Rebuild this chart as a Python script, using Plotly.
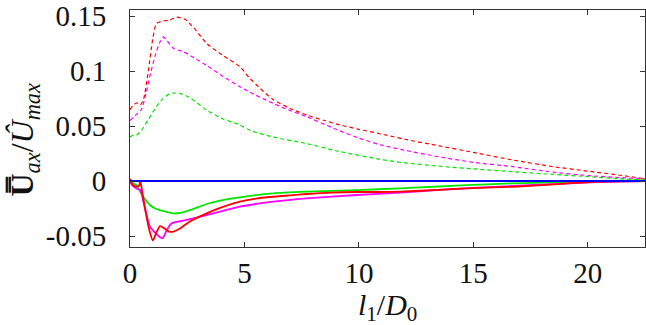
import plotly.graph_objects as go

# ---- data ----
red_dash_x = [0, 0.15, 0.3, 0.45, 0.6, 0.8, 1.0, 1.15, 1.45, 1.7, 2.04, 2.4, 2.8, 3.35, 4.0, 4.8, 5.25, 5.7, 6.26, 7.0, 7.72, 8.5, 9.18, 10.0, 10.93, 12, 13.5, 15, 16.75, 18.5, 20, 21.5, 22.5]
red_dash_y = [0.065, 0.069, 0.071, 0.069, 0.075, 0.10, 0.13, 0.143, 0.1457, 0.146, 0.149, 0.147, 0.139, 0.125, 0.115, 0.104, 0.093, 0.084, 0.074, 0.066, 0.060, 0.055, 0.051, 0.047, 0.043, 0.038, 0.032, 0.026, 0.019, 0.013, 0.009, 0.005, 0.002]

mag_dash_x = [0, 0.15, 0.3, 0.5, 0.7, 0.9, 1.1, 1.3, 1.46, 1.6, 1.9, 2.33, 2.8, 3.35, 4.0, 4.8, 5.5, 6.26, 7.0, 7.72, 8.89, 10.0, 10.93, 12, 13.5, 15, 16.75, 18.5, 20, 21.5, 22.5]
mag_dash_y = [0.055, 0.058, 0.061, 0.065, 0.080, 0.098, 0.114, 0.126, 0.131, 0.128, 0.1206, 0.1176, 0.112, 0.105, 0.096, 0.0857, 0.078, 0.0706, 0.064, 0.0585, 0.048, 0.039, 0.033, 0.028, 0.022, 0.017, 0.013, 0.008, 0.005, 0.003, 0.002]

grn_dash_x = [0, 0.15, 0.3, 0.5, 0.8, 1.1, 1.4, 1.7, 1.9, 2.2, 2.6, 3.35, 4.0, 4.8, 5.25, 6.26, 7.72, 9.0, 10.93, 12, 13.5, 15, 16.75, 18.5, 20, 21.5, 22.5]
grn_dash_y = [0.040, 0.042, 0.042, 0.046, 0.056, 0.066, 0.074, 0.079, 0.080, 0.0795, 0.076, 0.0645, 0.057, 0.051, 0.046, 0.040, 0.034, 0.0275, 0.0197, 0.0165, 0.0135, 0.011, 0.0085, 0.006, 0.004, 0.002, 0.001]

red_x = [0, 0.1, 0.25, 0.4, 0.45, 0.55, 0.7, 0.85, 1.0, 1.15, 1.31, 1.5, 1.7, 1.9, 2.2, 2.6, 3.35, 4.0, 4.8, 5.5, 6.26, 7.0, 7.72, 8.8, 9.9, 10.93, 11.8, 13.5, 15, 16.75, 18.5, 20.4, 22.5]
red_y = [0.002, -0.003, -0.005, -0.004, 0.0, -0.012, -0.030, -0.045, -0.054, -0.047, -0.041, -0.043, -0.046, -0.046, -0.043, -0.037, -0.0294, -0.024, -0.0188, -0.016, -0.0143, -0.013, -0.0118, -0.0105, -0.010, -0.010, -0.0097, -0.008, -0.0065, -0.0052, -0.003, -0.0005, 0.0]

mag_x = [0, 0.1, 0.3, 0.45, 0.6, 0.87, 1.1, 1.3, 1.43, 1.6, 1.82, 2.33, 3.35, 4.8, 6.26, 7.72, 9.9, 11.8, 13.5, 15, 16.75, 18.5, 20.4, 22.5]
mag_y = [0.0, -0.004, -0.007, -0.008, -0.020, -0.0415, -0.047, -0.051, -0.052, -0.045, -0.0385, -0.036, -0.031, -0.0233, -0.0188, -0.0158, -0.0127, -0.0106, -0.008, -0.0062, -0.0045, -0.0028, -0.001, 0.0]

grn_x = [0, 0.15, 0.3, 0.44, 0.6, 0.87, 1.1, 1.31, 1.6, 1.9, 2.2, 2.62, 3.35, 4.0, 4.8, 6.26, 7.72, 9.9, 11.8, 13.5, 15, 16.75, 18.5, 20.4, 22.5]
grn_y = [0.0, -0.002, -0.004, -0.0097, -0.015, -0.0218, -0.025, -0.0264, -0.028, -0.0294, -0.029, -0.0264, -0.0209, -0.0175, -0.0148, -0.0112, -0.0097, -0.0082, -0.0067, -0.005, -0.0035, -0.0021, -0.0012, 0.0, 0.0005]

blue_x = [0, 22.5]
blue_y = [0.0, 0.0]

x_ticks = [0, 5, 10, 15, 20]
y_ticks = [-0.05, 0, 0.05, 0.1, 0.15]
y_tick_labels = ["-0.05", "0", "0.05", "0.1", "0.15"]

RED = "#ff0000"
MAG = "#ff00ff"
GRN = "#00e600"
BLUE = "#0000ff"

fig = go.Figure()

def add(x, y, color, dash, width):
    fig.add_trace(go.Scatter(x=x, y=y, mode="lines",
                             line=dict(color=color, dash=dash, width=width, shape="spline", smoothing=0.6),
                             showlegend=False, hoverinfo="skip"))

add(grn_dash_x, grn_dash_y, GRN, "4px,3px", 1.2)
add(mag_dash_x, mag_dash_y, MAG, "4px,3px", 1.2)
add(red_dash_x, red_dash_y, RED, "4px,3px", 1.2)
add(grn_x, grn_y, GRN, "solid", 1.8)
add(mag_x, mag_y, MAG, "solid", 1.8)
add(red_x, red_y, RED, "solid", 1.8)
add(blue_x, blue_y, BLUE, "solid", 2)

FONT = "Liberation Serif"
axis_common = dict(showline=True, linecolor="#333333", linewidth=1, mirror="ticks",
                   ticks="inside", ticklen=5, tickcolor="#333333", showgrid=False,
                   zeroline=False, automargin=False, ticklabeloverflow="allow",
                   tickfont=dict(family=FONT, size=29, color="#111111"))

fig.update_layout(
    template="none",
    width=646, height=325,
    margin=dict(l=130, r=1, t=10, b=78),
    paper_bgcolor="white", plot_bgcolor="white",
    font=dict(family=FONT),
    xaxis=dict(range=[0, 22.5], tickvals=x_ticks, ticktext=[str(v) for v in x_ticks],
               ticklabelstandoff=0, **axis_common),
    yaxis=dict(range=[-0.06, 0.1555], tickvals=y_ticks, ticktext=y_tick_labels,
               ticklabelstandoff=17, **axis_common),
    annotations=[
        dict(text="<i>l</i><sub>1</sub>/<i>D</i><sub>0</sub>", xref="paper", yref="paper",
             x=0.5, y=-0.255, xanchor="center", yanchor="middle", showarrow=False,
             font=dict(family=FONT, size=30, color="#111111")),
        dict(text="<b>U\u033f</b><sub><i>ax</i></sub>/<i>\u00db</i><sub><i>max</i></sub>",
             xref="paper", yref="paper", x=-0.205, y=0.455, xanchor="center", yanchor="middle",
             textangle=-90, showarrow=False,
             font=dict(family=FONT, size=32, color="#111111")),
    ],
)

# remove the browser's default 8px page margin so the figure fills the window exactly
fig.write_html("out.html", config={"displayModeBar": False},
               post_script="document.body.style.margin='0';document.body.style.overflow='hidden';")
